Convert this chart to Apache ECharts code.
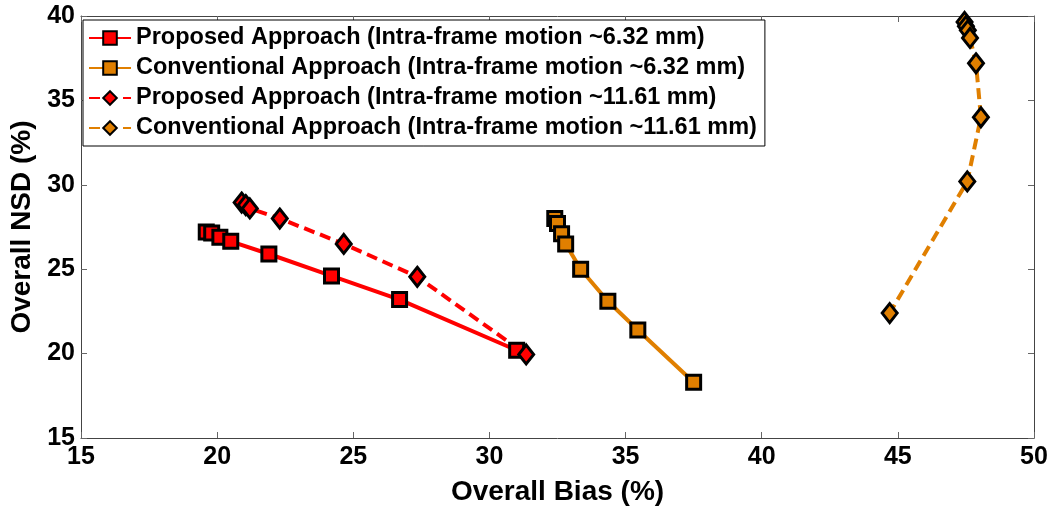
<!DOCTYPE html>
<html>
<head>
<meta charset="utf-8">
<script src="https://cdn.jsdelivr.net/npm/echarts@6/dist/echarts.min.js"></script>
<style>
  html, body { margin: 0; padding: 0; background: #fff; }
  #chart { width: 1061px; height: 507px; }
</style>
</head>
<body>
<div id="chart"></div>
<script>
// values: [bias %, NSD %]
const proposed632 = [[19.6, 27.2], [19.8, 27.15], [20.1, 26.9], [20.5, 26.65], [21.9, 25.9], [24.2, 24.6], [26.7, 23.2], [31.0, 20.2]]
const conventional632 = [[32.4, 28.0], [32.5, 27.7], [32.65, 27.1], [32.8, 26.5], [33.35, 25.0], [34.35, 23.1], [35.45, 21.4], [37.5, 18.3]]
const proposed1161 = [[20.9, 28.95], [21.05, 28.8], [21.2, 28.6], [22.3, 28.0], [24.65, 26.5], [27.35, 24.55], [31.35, 19.95]]
const conventional1161 = [[47.45, 39.65], [47.5, 39.4], [47.57, 39.15], [47.65, 38.7], [47.87, 37.2], [48.05, 34.0], [47.55, 30.2], [44.7, 22.4]]

const seriesNames = [
    'Proposed Approach (Intra-frame motion ~6.32 mm)',
    'Conventional Approach (Intra-frame motion ~6.32 mm)',
    'Proposed Approach (Intra-frame motion ~11.61 mm)',
    'Conventional Approach (Intra-frame motion ~11.61 mm)'
]
const xTicks = [15, 20, 25, 30, 35, 40, 45, 50]
const yTicks = [15, 20, 25, 30, 35, 40]

const RED = '#ff0000'
const ORANGE = '#e07f00'
const FONT = '"Liberation Sans", Arial, sans-serif'

const makeSeries = (name, data, color, symbol, dashed) => ({
    name: name,
    type: 'line',
    data: data,
    symbol: symbol,
    symbolSize: symbol === 'rect' ? 14 : [15, 19],
    lineStyle: { color: color, width: 4, type: dashed ? [11, 6] : 'solid' },
    itemStyle: { color: color, borderColor: '#000', borderWidth: 3 },
    emphasis: { disabled: true },
    animation: false
})

const tickAxis = (extra) => Object.assign({
    type: 'value',
    axisLine: { show: true, onZero: false, lineStyle: { color: '#444', width: 1 } },
    axisTick: { show: true, inside: true, length: 6, lineStyle: { color: '#666' } },
    splitLine: { show: false }
}, extra)

const chart = echarts.init(document.getElementById('chart'))

const option = {
    backgroundColor: '#fff',
    textStyle: { fontFamily: FONT },
    grid: { left: 81, right: 27, top: 16, bottom: 69, containLabel: false, outerBoundsMode: 'none' },
    legend: {
        orient: 'vertical',
        left: 83,
        top: 20,
        data: seriesNames,
        itemWidth: 42,
        itemHeight: 17,
        itemGap: 6,
        padding: [6, 8, 6, 5],
        borderColor: '#000',
        borderWidth: 1,
        backgroundColor: '#fff',
        textStyle: { fontFamily: FONT, fontSize: 23.5, fontWeight: 'bold', color: '#000' },
        selectedMode: false
    },
    xAxis: [
        tickAxis({
            min: xTicks[0], max: xTicks[xTicks.length - 1], interval: 5,
            name: 'Overall Bias (%)', nameLocation: 'middle', nameGap: 40,
            nameTextStyle: { fontFamily: FONT, fontSize: 28, fontWeight: 'bold', color: '#000' },
            axisLabel: { fontFamily: FONT, fontSize: 25, fontWeight: 'bold', color: '#000', margin: 7 }
        }),
        tickAxis({
            position: 'top', min: xTicks[0], max: xTicks[xTicks.length - 1], interval: 5,
            axisLabel: { show: false }
        })
    ],
    yAxis: [
        tickAxis({
            min: yTicks[0], max: yTicks[yTicks.length - 1], interval: 5,
            name: 'Overall NSD (%)', nameLocation: 'middle', nameGap: 45,
            nameTextStyle: { fontFamily: FONT, fontSize: 28, fontWeight: 'bold', color: '#000' },
            axisLabel: { fontFamily: FONT, fontSize: 25, fontWeight: 'bold', color: '#000', margin: 6 }
        }),
        tickAxis({
            position: 'right', min: yTicks[0], max: yTicks[yTicks.length - 1], interval: 5,
            axisLabel: { show: false }
        })
    ],
    series: [
        makeSeries(seriesNames[0], proposed632, RED, 'rect', false),
        makeSeries(seriesNames[1], conventional632, ORANGE, 'rect', false),
        makeSeries(seriesNames[2], proposed1161, RED, 'diamond', true),
        makeSeries(seriesNames[3], conventional1161, ORANGE, 'diamond', true)
    ]
}

chart.setOption(option)
</script>
</body>
</html>
